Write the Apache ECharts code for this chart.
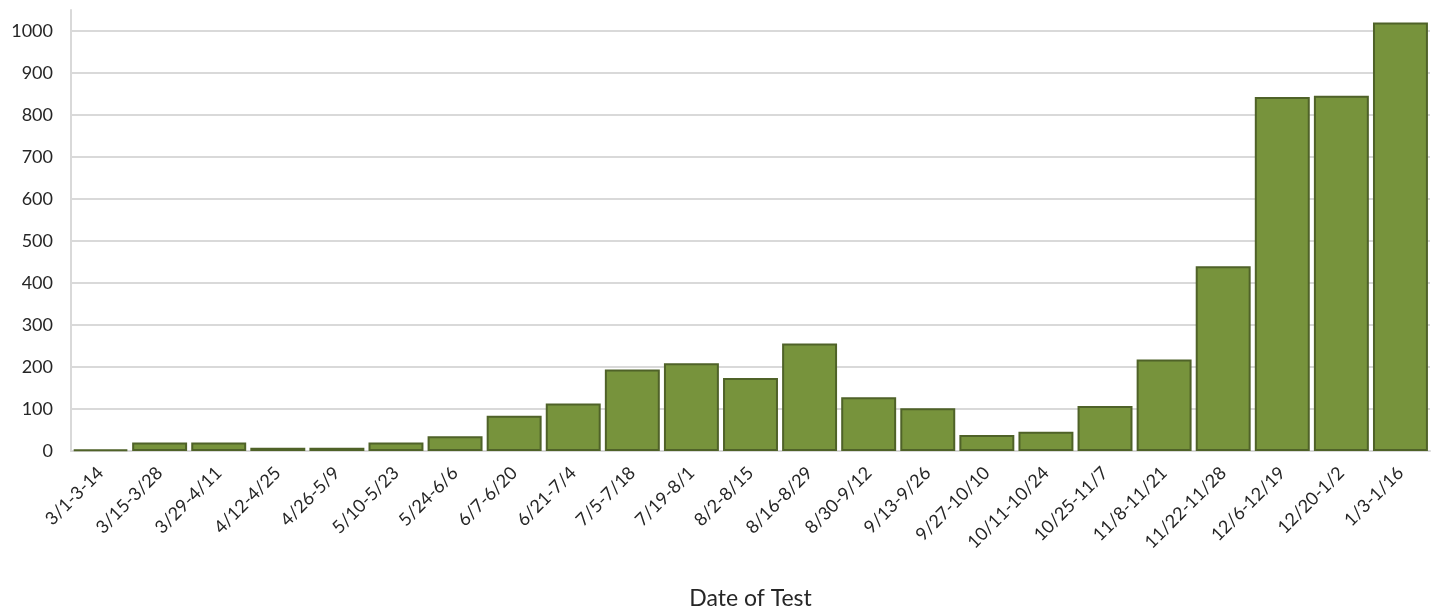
<!DOCTYPE html>
<html><head><meta charset="utf-8">
<script src="https://cdn.jsdelivr.net/npm/echarts@6/dist/echarts.min.js"></script>
<style>html,body{margin:0;padding:0;background:#fff}#c{width:1437px;height:612px}</style>
</head><body><div id="c"></div>
<script>
const categories = ["3/1-3-14","3/15-3/28","3/29-4/11","4/12-4/25","4/26-5/9","5/10-5/23","5/24-6/6","6/7-6/20","6/21-7/4","7/5-7/18","7/19-8/1","8/2-8/15","8/16-8/29","8/30-9/12","9/13-9/26","9/27-10/10","10/11-10/24","10/25-11/7","11/8-11/21","11/22-11/28","12/6-12/19","12/20-1/2","1/3-1/16"];
const values = [3,20,20,8,8,20,35,84,113,194,209,174,256,128,102,38,46,107,218,440,843,846,1020];
const xAxisTitle = "Date of Test";

const FONT = 'Lato, "Open Sans", sans-serif';
const chart = echarts.init(document.getElementById('c'), null, {renderer:'canvas'});
chart.setOption({
  animation:false,
  backgroundColor:'#fff',
  textStyle:{fontFamily:FONT},
  grid:{left:71,right:7,top:10,bottom:161,containLabel:false,outerBoundsMode:'none'},
  xAxis:{
    type:'category', data:categories,
    name:xAxisTitle, nameLocation:'middle', nameGap:136,
    nameTextStyle:{fontSize:23,color:'#262626',fontFamily:FONT},
    axisLine:{show:true,lineStyle:{color:'#D9D9D9',width:2}},
    axisTick:{show:false},
    axisLabel:{rotate:45,interval:0,fontSize:18,color:'#262626',margin:19,fontFamily:FONT}
  },
  yAxis:{
    type:'value', min:0, max:1050, interval:100,
    axisLine:{show:true,lineStyle:{color:'#D9D9D9',width:2}},
    axisTick:{show:false},
    axisLabel:{fontSize:18,color:'#262626',margin:18,showMaxLabel:false,fontFamily:FONT,
      formatter:function(v){return String(v);}},
    splitLine:{show:true,showMaxLine:false,showMinLine:false,lineStyle:{color:'#D9D9D9',width:2}}
  },
  series:[{
    type:'bar', data:values, barCategoryGap:'7%',
    itemStyle:{color:'#77933C',borderColor:'#4F6228',borderWidth:2}
  }]
});
</script></body></html>
